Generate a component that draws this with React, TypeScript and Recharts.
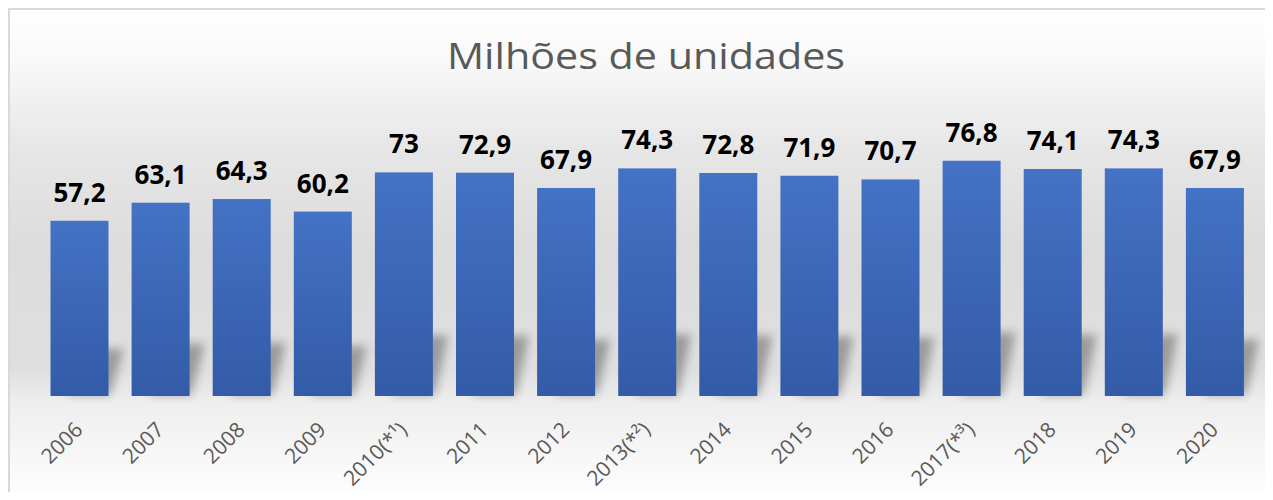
import React from 'react';
import { BarChart, Bar, XAxis, YAxis, LabelList } from 'recharts';

const categories = ['2006', '2007', '2008', '2009', '2010(*¹)', '2011', '2012', '2013(*²)', '2014', '2015', '2016', '2017(*³)', '2018', '2019', '2020'];
const values = [57.2, 63.1, 64.3, 60.2, 73, 72.9, 67.9, 74.3, 72.8, 71.9, 70.7, 76.8, 74.1, 74.3, 67.9];
const yDomain = [0, 90];
const title = 'Milhões de unidades';

const data = categories.map((c, i) => ({ year: c, value: values[i] }));

const fmt = (v: number) => String(v).replace('.', ',');

const BarShape = (props: any) => {
  const { x, y, width, height } = props;
  const bottom = y + height;
  const hs = height * 0.27;
  const pts = [
    [x + width * 0.3, bottom - 1],
    [x + width + 2, bottom - 1],
    [x + width + 15, bottom - hs],
    [x + width * 0.3 + 15, bottom - hs],
  ]
    .map((p) => p.join(','))
    .join(' ');
  return (
    <g>
      <polygon points={pts} fill="#000" opacity={0.3} filter="url(#shadowBlur)" />
      <rect x={x} y={y} width={width} height={height} fill="url(#barGrad)" />
    </g>
  );
};

const ValueLabel = (props: any) => {
  const { x, y, width, value } = props;
  return (
    <text
      x={x + width / 2}
      y={y - 19}
      textAnchor="middle"
      fontFamily="'Open Sans', sans-serif"
      fontWeight={700}
      fontSize={26}
      fill="#000"
    >
      {fmt(value)}
    </text>
  );
};

const Tick = (props: any) => {
  const { x, y, payload } = props;
  return (
    <g transform={`translate(${x + 5},${y + 27})`}>
      <text
        x={0}
        y={0}
        textAnchor="end"
        transform="rotate(-45)"
        fontFamily="'Open Sans', sans-serif"
        fontSize={21}
        fill="#595959"
      >
        {payload.value}
      </text>
    </g>
  );
};

export default function App() {
  return (
    <div
      style={{
        position: 'relative',
        width: 1263,
        height: 482,
        borderTop: '2px solid #d9d9d9',
        borderLeft: '2px solid #d9d9d9',
        background:
          'linear-gradient(to bottom, #ffffff 0px, #f9f9f9 50px, #e6e6e6 140px, #dcdcdc 240px, #dfdfdf 360px, #eeeeee 392px, #fdfdfd 482px)',
      }}
    >
      <svg width={1263} height={90} style={{ position: 'absolute', left: 0, top: 0 }}>
        <text
          x={636}
          y={59.3}
          textAnchor="middle"
          fontFamily="'Open Sans', sans-serif"
          fontSize={36}
          fill="#595959"
          textLength={398}
          lengthAdjust="spacingAndGlyphs"
        >
          {title}
        </text>
      </svg>
      <BarChart
        width={1263}
        height={482}
        data={data}
        margin={{ top: 110.3, right: 18, bottom: 0, left: 28.5 }}
        barSize={58}
        style={{ position: 'absolute', left: 0, top: 0 }}
      >
        <defs>
          <linearGradient id="barGrad" x1="0" y1="0" x2="0" y2="1">
            <stop offset="0%" stopColor="#4472c4" />
            <stop offset="100%" stopColor="#335ba7" />
          </linearGradient>
          <filter id="shadowBlur" x="-50%" y="-50%" width="200%" height="200%">
            <feGaussianBlur stdDeviation="5" />
          </filter>
        </defs>
        <XAxis
          dataKey="year"
          axisLine={false}
          tickLine={false}
          interval={0}
          height={96}
          tick={<Tick />}
        />
        <YAxis hide domain={yDomain} />
        <Bar dataKey="value" isAnimationActive={false} shape={<BarShape />}>
          <LabelList dataKey="value" content={<ValueLabel />} />
        </Bar>
      </BarChart>
    </div>
  );
}
